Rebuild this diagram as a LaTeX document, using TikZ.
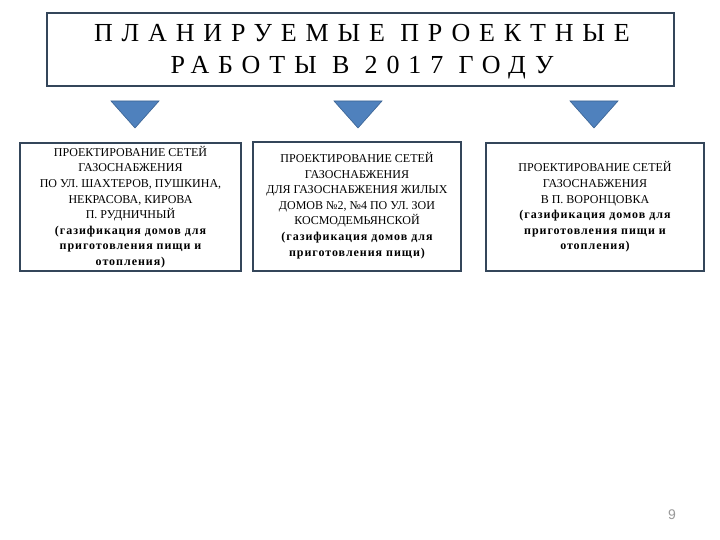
\documentclass[tikz,border=0pt]{standalone}
\usepackage{fontspec}
\setmainfont{Liberation Serif}
\newfontfamily\pgnumfont{Liberation Sans}
\definecolor{boxborder}{HTML}{34465A}
\definecolor{trifill}{HTML}{4F81BD}
\definecolor{triedge}{HTML}{3A6292}
\newcommand{\bl}[1]{{\bfseries\addfontfeature{LetterSpace=8}#1}}
\tikzset{
  titlebox/.style={draw=boxborder, line width=1.6pt, fill=white},
  itembox/.style={draw=boxborder, line width=1.6pt, fill=white},
  itemtext/.style={align=center, inner sep=0pt, font=\fontsize{12}{15.6}\selectfont},
  tri/.style={fill=trifill, draw=triedge, line width=0.6pt},
}
\begin{document}
\begin{tikzpicture}[x=1pt,y=-1pt]
\useasboundingbox (0,0) rectangle (720,540);
% title
\draw[titlebox] (47,13) rectangle (674,86);
\node[align=center, inner sep=0pt, font=\fontsize{26}{32}\selectfont\addfontfeature{LetterSpace=34}] (title) at (362,52)
  {ПЛАНИРУЕМЫЕ ПРОЕКТНЫЕ\\РАБОТЫ В 2017 ГОДУ};
% triangles
\draw[tri] (111,101) -- (159,101) -- (135,128) -- cycle;
\draw[tri] (334,101) -- (382,101) -- (358,128) -- cycle;
\draw[tri] (570,101) -- (618,101) -- (594,128) -- cycle;
% boxes
\draw[itembox] (20,143) rectangle (241,271);
\draw[itembox] (253,142) rectangle (461,271);
\draw[itembox] (486,143) rectangle (704,271);
\node[itemtext] (t1) at (130.5,207) {ПРОЕКТИРОВАНИЕ СЕТЕЙ\\ГАЗОСНАБЖЕНИЯ\\ПО УЛ. ШАХТЕРОВ, ПУШКИНА,\\НЕКРАСОВА, КИРОВА\\П. РУДНИЧНЫЙ\\\bl{(газификация домов для}\\\bl{приготовления пищи и}\\\bl{отопления)}};
\node[itemtext] (t2) at (357,205.5) {ПРОЕКТИРОВАНИЕ СЕТЕЙ\\ГАЗОСНАБЖЕНИЯ\\ДЛЯ ГАЗОСНАБЖЕНИЯ ЖИЛЫХ\\ДОМОВ №2, №4 ПО УЛ. ЗОИ\\КОСМОДЕМЬЯНСКОЙ\\\bl{(газификация домов для}\\\bl{приготовления пищи)}};
\node[itemtext] (t3) at (595,207) {ПРОЕКТИРОВАНИЕ СЕТЕЙ\\ГАЗОСНАБЖЕНИЯ\\В П. ВОРОНЦОВКА\\\bl{(газификация домов для}\\\bl{приготовления пищи и}\\\bl{отопления)}};
% page number
\node[font=\pgnumfont\fontsize{14}{16}\selectfont, text=gray!80, inner sep=0pt] (pg) at (672,515) {9};
\end{tikzpicture}
\end{document}
